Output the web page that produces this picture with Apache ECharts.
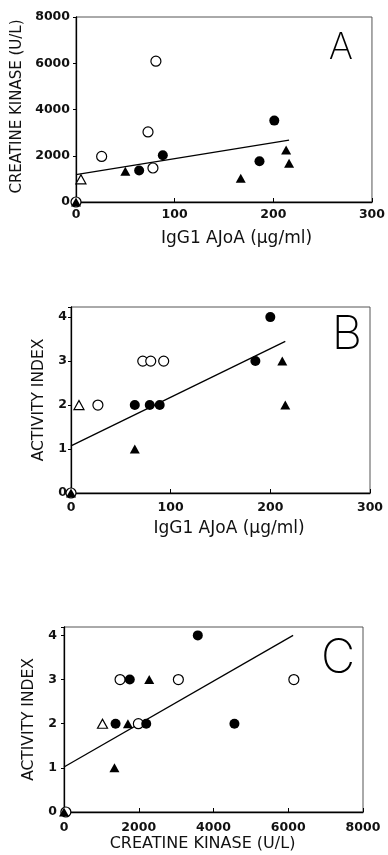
<!DOCTYPE html>
<html>
<head>
<meta charset="utf-8">
<script src="https://cdn.jsdelivr.net/npm/echarts@6/dist/echarts.min.js"></script>
<style>
html,body{margin:0;padding:0;background:#fff;}
#chart{width:388px;height:855px;}
</style>
</head>
<body>
<div id="chart"></div>
<script>
// ---- Panel A: IgG1 AJoA vs Creatine kinase ----
var aOpenCircle    = [[0,0],[26,1970],[73,3030],[78,1470],[81,6090]];
var aFilledCircle  = [[64,1360],[88,2020],[186,1760],[201,3520]];
var aOpenTriangle  = [[5,980]];
var aFilledTriangle= [[0,0],[50,1330],[167,1030],[213,2250],[216,1680]];
var aFit           = [[0,1186],[216,2672]];

// ---- Panel B: IgG1 AJoA vs Activity index ----
var bOpenCircle    = [[0,0],[27,2],[72,3],[80,3],[93,3]];
var bFilledCircle  = [[64,2],[79,2],[89,2],[185,3],[200,4]];
var bOpenTriangle  = [[8,2]];
var bFilledTriangle= [[0,0],[64,1],[212,3],[215,2]];
var bFit           = [[0,1.07],[215,3.45]];

// ---- Panel C: Creatine kinase vs Activity index ----
var cOpenCircle    = [[50,0],[1500,3],[3060,3],[1990,2],[6150,3]];
var cFilledCircle  = [[3580,4],[1760,3],[1380,2],[2200,2],[4560,2]];
var cOpenTriangle  = [[1030,2]];
var cFilledTriangle= [[0,0],[2280,3],[1710,2],[1350,1]];
var cFit           = [[0,1.02],[6130,4]];

// axis texts
var panelLetters = ['A','B','C'];
var xNames = ['IgG1 AJoA (\u03bcg/ml)','IgG1 AJoA (\u03bcg/ml)','CREATINE KINASE (U/L)'];
var yNames = ['CREATINE KINASE (U/L)','ACTIVITY INDEX','ACTIVITY INDEX'];
var xRanges = [[0,300,100],[0,300,100],[0,8000,2000]];
var yRanges = [[0,8000,2000],[0,4.23,1],[0,4.19,1]];

var chart = echarts.init(document.getElementById('chart'));

var tickFont = {fontFamily:'DejaVu Sans', fontWeight:'bold', fontSize:12.5, color:'#111'};
var nameFont = {fontFamily:'DejaVu Sans', fontWeight:'normal', color:'#111'};

var grids = [
  {left:76, top:17, width:297, height:185},
  {left:71, top:307, width:299, height:186},
  {left:64, top:627, width:299, height:185}
];
grids.forEach(function(g){ g.show=true; g.borderColor='#555'; g.borderWidth=1; g.backgroundColor='transparent'; });

var xCfg = [
  {nameGap:28, namePad:[0,0,0,25], nameSize:17, labelMargin:6},
  {nameGap:27, namePad:[0,0,0,17], nameSize:17, labelMargin:8},
  {nameGap:24, namePad:[0,22,0,0], nameSize:16, labelMargin:9}
];
var yCfg = [
  {nameGap:49, namePad:[0,0,0,6], nameSize:15, labelMargin:6},
  {nameGap:23, namePad:[0,0,0,0], nameSize:15.5, labelMargin:4},
  {nameGap:26, namePad:[0,0,0,0], nameSize:15.5, labelMargin:7}
];

function intLabel(v){ return Math.abs(v - Math.round(v)) < 1e-9 ? String(Math.round(v)) : ''; }

var xAxes = [], yAxes = [];
for (var i=0;i<3;i++){
  xAxes.push({
    type:'value', gridIndex:i, min:xRanges[i][0], max:xRanges[i][1], interval:xRanges[i][2],
    name:xNames[i], nameLocation:'middle', nameGap:xCfg[i].nameGap,
    nameTextStyle:Object.assign({}, nameFont, {fontSize:xCfg[i].nameSize, padding:xCfg[i].namePad}),
    axisLine:{show:true, onZero:false, lineStyle:{color:'#000', width:1.3}},
    axisTick:{show:true, inside:true, length:4, lineStyle:{color:'#000', width:1}},
    axisLabel:Object.assign({}, tickFont, {margin:xCfg[i].labelMargin, formatter:intLabel}),
    splitLine:{show:false}
  });
  yAxes.push({
    type:'value', gridIndex:i, min:yRanges[i][0], max:yRanges[i][1], interval:yRanges[i][2],
    name:yNames[i], nameLocation:'middle', nameGap:yCfg[i].nameGap,
    nameTextStyle:Object.assign({}, nameFont, {fontSize:yCfg[i].nameSize, padding:yCfg[i].namePad}),
    axisLine:{show:true, onZero:false, lineStyle:{color:'#000', width:1.3}},
    axisTick:{show:true, inside:false, length:3, lineStyle:{color:'#000', width:1}},
    axisLabel:Object.assign({}, tickFont, {margin:yCfg[i].labelMargin, formatter:intLabel}),
    splitLine:{show:false}
  });
}

function pts(name, data, idx, symbol, filled){
  return {
    type:'scatter', name:name, xAxisIndex:idx, yAxisIndex:idx, data:data,
    symbol:symbol, symbolSize: symbol==='triangle' ? [10,9] : 10,
    itemStyle:{color: filled ? '#000' : '#fff', borderColor:'#000', borderWidth: filled ? 0 : 1.2, opacity:1},
    emphasis:{disabled:true}, z:3
  };
}
function fit(data, idx){
  return {type:'line', xAxisIndex:idx, yAxisIndex:idx, data:data, symbol:'none',
    lineStyle:{color:'#000', width:1.3}, z:2, silent:true};
}

var panels = [
  [aOpenCircle,aFilledCircle,aOpenTriangle,aFilledTriangle,aFit],
  [bOpenCircle,bFilledCircle,bOpenTriangle,bFilledTriangle,bFit],
  [cOpenCircle,cFilledCircle,cOpenTriangle,cFilledTriangle,cFit]
];
var series = [];
panels.forEach(function(p, i){
  series.push(fit(p[4], i));
  series.push(pts('open circle', p[0], i, 'circle', false));
  series.push(pts('filled circle', p[1], i, 'circle', true));
  series.push(pts('open triangle', p[2], i, 'triangle', false));
  series.push(pts('filled triangle', p[3], i, 'triangle', true));
});

var letterPos = [[341,48,37],[347,335,47],[338,659,47]];

chart.setOption({
  animation:false,
  backgroundColor:'#fff',
  graphic: panelLetters.map(function(t, i){
    return {type:'text', x:letterPos[i][0], y:letterPos[i][1], style:{text:t, fill:'#000',
      font: '200 ' + letterPos[i][2] + 'px Inter', textAlign:'center', textVerticalAlign:'middle'}};
  }),
  grid:grids, xAxis:xAxes, yAxis:yAxes, series:series
});
</script>
</body>
</html>
